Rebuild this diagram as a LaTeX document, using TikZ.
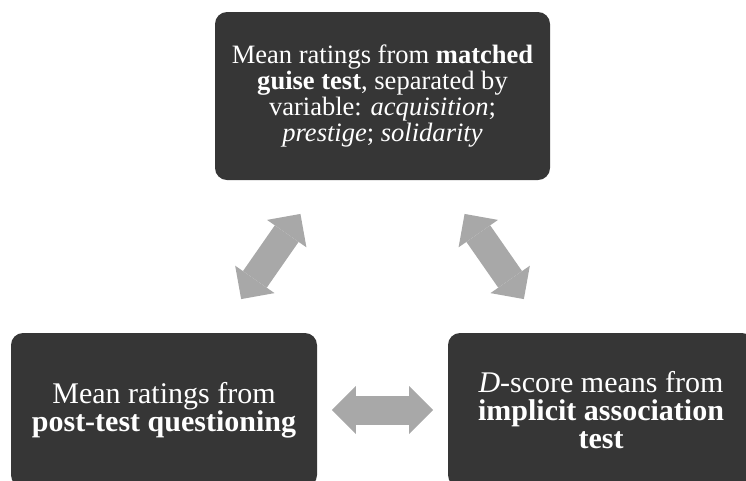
\documentclass[tikz,border=0pt]{standalone}
\usepackage{fontspec}
\setmainfont{Liberation Serif}
\usetikzlibrary{arrows.meta}
\definecolor{boxgrey}{RGB}{54,54,54}
\definecolor{arrowgrey}{RGB}{168,168,168}
\begin{document}
\begin{tikzpicture}[x=0.75pt,y=-0.75pt,
  box/.style={fill=boxgrey,text=white,rounded corners=9pt,inner sep=0pt,align=center},
  bigtext/.style={font=\fontsize{22.5}{21}\selectfont},
  link/.style={arrowgrey,line width=21.75pt,
    {Triangle[length=18pt,width=36pt,line width=0pt]}-{Triangle[length=18pt,width=36pt,line width=0pt]}}]
  \clip (0,0) rectangle (746,480);
  \node[box,minimum width=251.25pt,minimum height=126pt,font=\fontsize{19.9}{19.5}\selectfont] (mgt) at (382.5,96)
    {Mean ratings from \textbf{matched}\\ \textbf{guise test}, separated by\\ variable: \textit{acquisition};\\ \textit{prestige}; \textit{solidarity}};
  \node[box,bigtext,minimum width=229.5pt,minimum height=115.5pt] (ptq) at (164,410)
    {Mean ratings from\\ \textbf{post-test questioning}};
  \node[box,bigtext,minimum width=229.5pt,minimum height=115.5pt] (iat) at (601,410)
    {\textit{D}-score means from\\ \textbf{implicit association}\\ \textbf{test}};
  \draw[link,shorten <=30.75pt,shorten >=30.75pt] (mgt) -- (ptq);
  \draw[link,shorten <=30.75pt,shorten >=30.75pt] (mgt) -- (iat);
  \draw[link,shorten <=10.9pt,shorten >=10.9pt] (ptq) -- (iat);
\end{tikzpicture}
\end{document}
